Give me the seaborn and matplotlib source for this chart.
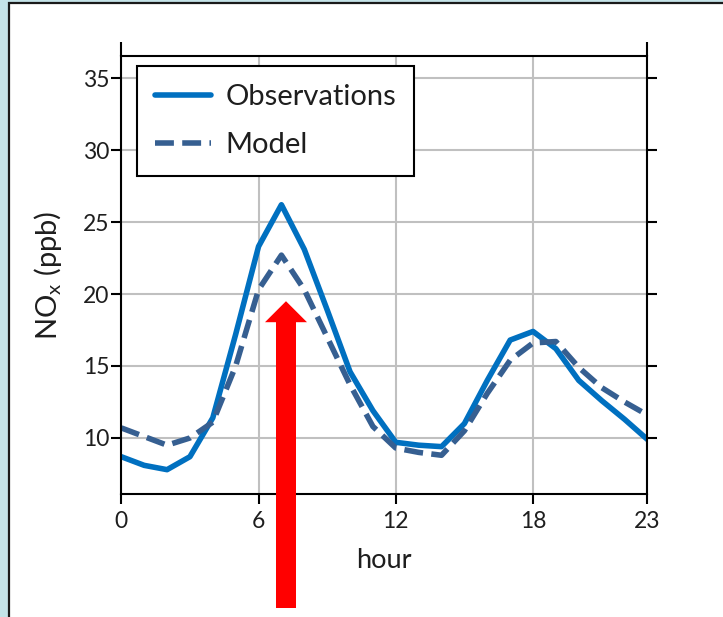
import matplotlib
matplotlib.use('Agg')
import pandas as pd
import matplotlib.pyplot as plt
import seaborn as sns
from matplotlib.patches import Rectangle, FancyArrow
from matplotlib.transforms import IdentityTransform


# hourly NOx (ppb)
HOURS = list(range(24))
OBSERVATIONS = [8.7, 8.1, 7.8, 8.7, 11.4, 17.2, 23.3, 26.2, 23.1, 18.9, 14.6, 11.9,
                9.7, 9.5, 9.4, 11.0, 14.0, 16.8, 17.4, 16.2, 14.0, 12.6, 11.3, 9.9]
MODEL = [10.7, 10.1, 9.5, 10.0, 11.1, 15.0, 20.3, 22.7, 20.3, 17.0, 13.7, 10.8,
         9.3, 9.0, 8.8, 10.5, 13.1, 15.4, 16.6, 16.7, 14.9, 13.5, 12.5, 11.6]
XTICKS = [0, 6, 12, 18, 23]
YTICKS = [10, 15, 20, 25, 30, 35]
ARROW_HOUR = 7.2     # where the red arrow points
ARROW_TIP = 19.5

OBS_COLOR = '#0070c0'
MODEL_COLOR = '#365f91'
TEXT_COLOR = '#1e1e1e'


sns.set_theme(style='white')
plt.rcParams['font.family'] = ['Lato', 'DejaVu Sans']

fig = plt.figure(figsize=(7.23, 6.17), dpi=100, facecolor='#c4e3e8')

# white panel with dark frame on the left/top
panel = Rectangle((9, -10), 740, 624, transform=IdentityTransform(),
                  facecolor='white', edgecolor='#1a1a1a', linewidth=1.6, zorder=0)
fig.add_artist(panel)

ax = fig.add_axes([121.3/723, 123/617, 526.1/723, 438/617])
ax.set_facecolor('none')

sns.lineplot(x=HOURS, y=OBSERVATIONS, color=OBS_COLOR, linewidth=4.0,
             label='Observations', ax=ax)
sns.lineplot(x=HOURS, y=MODEL, color=MODEL_COLOR, linewidth=4.0,
             linestyle=(0, (3.4, 1.5)), label='Model', ax=ax)

ax.set_xlim(0, 23)
ax.set_ylim(6.11, 36.53)
ax.set_xticks(XTICKS)
ax.set_yticks(YTICKS)
ax.grid(True, color='#c0c0c0', linewidth=1.5)
ax.set_axisbelow(True)

for s in ax.spines.values():
	s.set_visible(True)
	s.set_color('black')
	s.set_linewidth(1.5)

# left / right axis lines run a bit above the top frame
for xa in (0, 1):
	ax.plot([xa, xa], [1, 1.032], transform=ax.transAxes, color='black',
	        linewidth=1.5, clip_on=False, solid_capstyle='butt')

ax.tick_params(axis='both', direction='out', color='black', width=1.5,
               labelsize=16.5, labelcolor=TEXT_COLOR)
ax.tick_params(axis='y', length=7.5, pad=1, right=True, left=True, labelright=False)
ax.tick_params(axis='x', length=7.5, pad=5, bottom=True)

ax.set_xlabel('hour', fontsize=19.5, color=TEXT_COLOR, labelpad=11)
ax.set_ylabel('NO$_\\mathregular{x}$ (ppb)', fontsize=21, color=TEXT_COLOR, labelpad=14)

leg = ax.legend(loc='upper left', bbox_to_anchor=(0.03, 0.977), borderaxespad=0,
                fontsize=21, frameon=True, fancybox=False, framealpha=1,
                edgecolor='black', handlelength=1.9, handletextpad=0.5,
                borderpad=0.62, labelspacing=0.75)
leg.get_frame().set_linewidth(1.5)
for t in leg.get_texts():
	t.set_color(TEXT_COLOR)

# red arrow from below the figure up to the morning peak
fig.canvas.draw()
tip = ax.transData.transform((ARROW_HOUR, ARROW_TIP)) / fig.dpi
base_y = 9 / fig.dpi
arrow = FancyArrow(tip[0], base_y, 0, tip[1] - base_y, width=0.20,
                   head_width=0.42, head_length=0.21, length_includes_head=True,
                   color='#ff0000', linewidth=0, transform=fig.dpi_scale_trans)
fig.add_artist(arrow)

fig.savefig('out.png', dpi=100, facecolor=fig.get_facecolor())
plt.close()
